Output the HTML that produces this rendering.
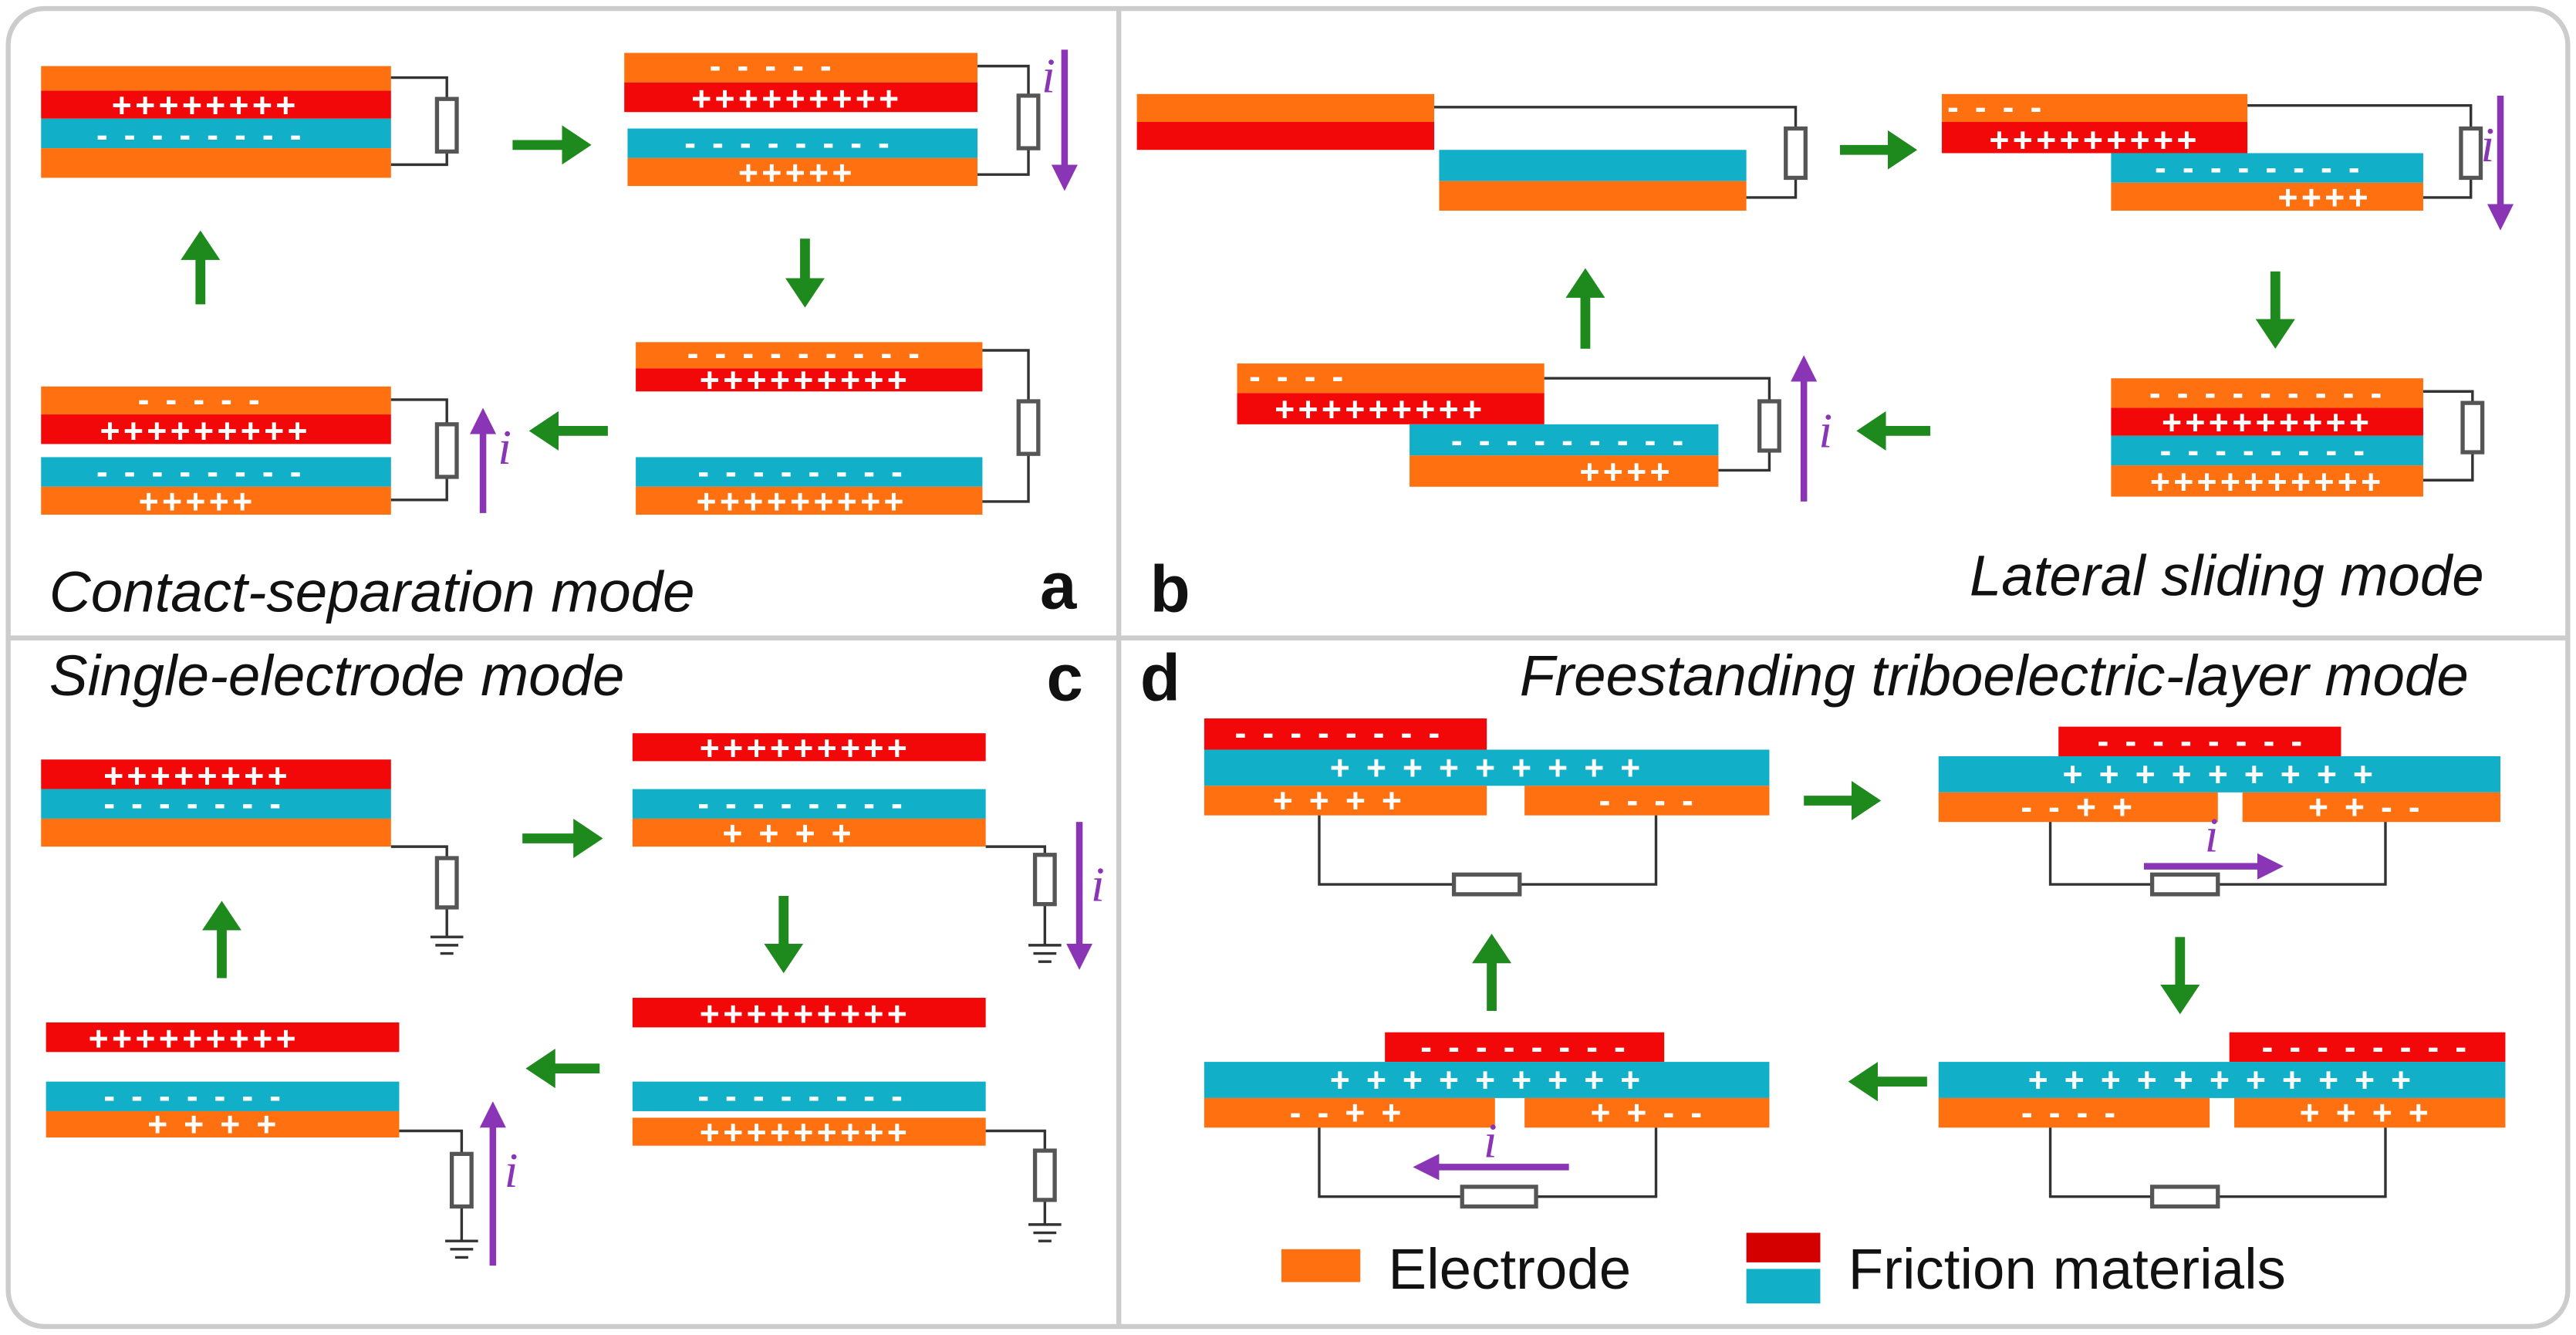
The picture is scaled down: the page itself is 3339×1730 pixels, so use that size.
<!DOCTYPE html>
<html><head><meta charset="utf-8"><style>
html,body{margin:0;padding:0;background:#fff}
svg{display:block}
.t{font-family:"Liberation Sans",sans-serif;font-weight:bold;fill:#fff;font-size:21px;text-anchor:middle;letter-spacing:2px}
.m{font-family:"Liberation Sans",sans-serif;font-style:italic;font-size:35px;fill:#111}
.L{font-family:"Liberation Sans",sans-serif;font-weight:bold;font-size:40px;fill:#111}
.i{font-family:"Liberation Serif",serif;font-style:italic;font-size:30px;fill:#8a35b5}
.w{stroke:#333;stroke-width:1.6;fill:none}
.r{fill:#fff;stroke:#555;stroke-width:2.5}
.g{stroke:#1e8a1e;stroke-width:6}
.p{stroke:#8a35b5;stroke-width:4}
.O{fill:#ff7010}.R{fill:#f20808}.C{fill:#12b0c8}
</style></head><body>
<svg width="3339" height="1730" viewBox="0 0 1568 812" xmlns="http://www.w3.org/2000/svg">
<defs>
<marker id="ga" markerWidth="4" markerHeight="4" refX="1" refY="2" orient="auto" markerUnits="strokeWidth"><path d="M0,0 L3,2 L0,4 z" fill="#1e8a1e"/></marker>
<marker id="pa" markerWidth="5" markerHeight="4" refX="1" refY="2" orient="auto" markerUnits="strokeWidth"><path d="M0,0 L4,2 L0,4 z" fill="#8a35b5"/></marker>
</defs>
<rect x="5" y="5" width="1558" height="802" rx="22" fill="#fff" stroke="#ccc" stroke-width="3"/>
<line x1="681" y1="6" x2="681" y2="806" stroke="#ccc" stroke-width="3"/>
<line x1="6" y1="388" x2="1562" y2="388" stroke="#ccc" stroke-width="3"/>

<!-- Panel a -->
<g>
<rect class="O" x="25" y="40" width="213" height="15"/><rect class="R" x="25" y="55" width="213" height="17"/>
<rect class="C" x="25" y="72" width="213" height="18"/><rect class="O" x="25" y="90" width="213" height="18"/>
<text class="t" x="125" y="71">++++++++</text><text class="t" x="122" y="89">- - - - - - - -</text>
<path class="w" d="M238,47 H272 V100 H238"/><rect class="r" x="266" y="60" width="12" height="32"/>
<line class="g" x1="312" y1="88" x2="348" y2="88" marker-end="url(#ga)"/>

<rect class="O" x="380" y="32" width="215" height="18"/><rect class="R" x="380" y="50" width="215" height="18"/>
<rect class="C" x="382" y="78" width="213" height="18"/><rect class="O" x="382" y="96" width="213" height="17"/>
<text class="t" x="470" y="47">- - - - -</text><text class="t" x="485" y="67">+++++++++</text>
<text class="t" x="480" y="94">- - - - - - - -</text><text class="t" x="485" y="112">+++++</text>
<path class="w" d="M595,40 H626 V106 H595"/><rect class="r" x="620" y="58" width="12" height="32"/>
<line class="p" x1="648" y1="30" x2="648" y2="104" marker-end="url(#pa)"/><text class="i" x="634" y="56">i</text>
<line class="g" x1="490" y1="145" x2="490" y2="175" marker-end="url(#ga)"/>

<rect class="O" x="387" y="208" width="211" height="16"/><rect class="R" x="387" y="224" width="211" height="14"/>
<rect class="C" x="387" y="278" width="211" height="18"/><rect class="O" x="387" y="296" width="211" height="17"/>
<text class="t" x="490" y="222">- - - - - - - - -</text><text class="t" x="490" y="238">+++++++++</text>
<text class="t" x="488" y="294">- - - - - - - -</text><text class="t" x="488" y="312">+++++++++</text>
<path class="w" d="M598,213 H626 V305 H598"/><rect class="r" x="620" y="244" width="12" height="32"/>
<line class="g" x1="370" y1="262" x2="334" y2="262" marker-end="url(#ga)"/>

<rect class="O" x="25" y="235" width="213" height="17"/><rect class="R" x="25" y="252" width="213" height="18"/>
<rect class="C" x="25" y="278" width="213" height="18"/><rect class="O" x="25" y="296" width="213" height="17"/>
<text class="t" x="122" y="250">- - - - -</text><text class="t" x="125" y="269">+++++++++</text>
<text class="t" x="122" y="294">- - - - - - - -</text><text class="t" x="120" y="312">+++++</text>
<path class="w" d="M238,243 H272 V304 H238"/><rect class="r" x="266" y="258" width="12" height="32"/>
<line class="p" x1="294" y1="312" x2="294" y2="260" marker-end="url(#pa)"/><text class="i" x="303" y="282">i</text>
<line class="g" x1="122" y1="185" x2="122" y2="152" marker-end="url(#ga)"/>
<text class="m" x="30" y="372">Contact-separation mode</text><text class="L" x="633" y="370">a</text>
</g>

<!-- Panel b -->
<g>
<rect class="O" x="692" y="57" width="181" height="17"/><rect class="R" x="692" y="74" width="181" height="17"/>
<rect class="C" x="876" y="91" width="187" height="19"/><rect class="O" x="876" y="110" width="187" height="18"/>
<path class="w" d="M873,65 H1093 V120 H1063"/><rect class="r" x="1087" y="78" width="12" height="30"/>
<line class="g" x1="1120" y1="91" x2="1155" y2="91" marker-end="url(#ga)"/>

<rect class="O" x="1182" y="57" width="186" height="17"/><rect class="R" x="1182" y="74" width="186" height="19"/>
<rect class="C" x="1285" y="93" width="190" height="18"/><rect class="O" x="1285" y="111" width="190" height="17"/>
<text class="t" x="1215" y="72">- - - -</text><text class="t" x="1275" y="92">+++++++++</text>
<text class="t" x="1375" y="109">- - - - - - - -</text><text class="t" x="1415" y="127">++++</text>
<path class="w" d="M1368,64 H1504 V120 H1475"/><rect class="r" x="1498" y="78" width="12" height="30"/>
<line class="p" x1="1522" y1="58" x2="1522" y2="128" marker-end="url(#pa)"/><text class="i" x="1510" y="98">i</text>
<line class="g" x1="1385" y1="165" x2="1385" y2="200" marker-end="url(#ga)"/>

<rect class="O" x="1285" y="230" width="190" height="18"/><rect class="R" x="1285" y="248" width="190" height="17"/>
<rect class="C" x="1285" y="265" width="190" height="18"/><rect class="O" x="1285" y="283" width="190" height="19"/>
<text class="t" x="1380" y="246">- - - - - - - - -</text><text class="t" x="1380" y="264">+++++++++</text>
<text class="t" x="1378" y="281">- - - - - - - -</text><text class="t" x="1380" y="300">++++++++++</text>
<path class="w" d="M1475,238 H1505 V292 H1475"/><rect class="r" x="1499" y="245" width="12" height="30"/>
<line class="g" x1="1175" y1="262" x2="1142" y2="262" marker-end="url(#ga)"/>

<rect class="O" x="753" y="221" width="187" height="18"/><rect class="R" x="753" y="239" width="187" height="19"/>
<rect class="C" x="858" y="258" width="188" height="19"/><rect class="O" x="858" y="277" width="188" height="19"/>
<text class="t" x="790" y="236">- - - -</text><text class="t" x="840" y="256">+++++++++</text>
<text class="t" x="955" y="275">- - - - - - - - -</text><text class="t" x="990" y="294">++++</text>
<path class="w" d="M940,230 H1077 V286 H1046"/><rect class="r" x="1071" y="244" width="12" height="30"/>
<line class="p" x1="1098" y1="305" x2="1098" y2="228" marker-end="url(#pa)"/><text class="i" x="1107" y="272">i</text>
<line class="g" x1="965" y1="212" x2="965" y2="175" marker-end="url(#ga)"/>
<text class="m" x="1512" y="362" text-anchor="end">Lateral sliding mode</text><text class="L" x="700" y="372">b</text>
</g>

<!-- Panel c -->
<g>
<text class="m" x="30" y="423">Single-electrode mode</text><text class="L" x="637" y="426">c</text>
<rect class="R" x="25" y="462" width="213" height="18"/><rect class="C" x="25" y="480" width="213" height="18"/><rect class="O" x="25" y="498" width="213" height="17"/>
<text class="t" x="120" y="479">++++++++</text><text class="t" x="118" y="496">- - - - - - -</text>
<path class="w" d="M238,515 H272 V570"/><rect class="r" x="266" y="522" width="12" height="30"/>
<path class="w" d="M262,570 H282 M265,575 H279 M268,580 H276"/>
<line class="g" x1="318" y1="510" x2="355" y2="510" marker-end="url(#ga)"/>

<rect class="R" x="385" y="446" width="215" height="17"/><rect class="C" x="385" y="480" width="215" height="18"/><rect class="O" x="385" y="498" width="215" height="17"/>
<text class="t" x="490" y="462">+++++++++</text><text class="t" x="488" y="496">- - - - - - - -</text><text class="t" x="480" y="514">+ + +  +</text>
<path class="w" d="M600,515 H636 V575"/><rect class="r" x="630" y="520" width="12" height="30"/>
<path class="w" d="M626,575 H646 M629,580 H643 M632,585 H640"/>
<line class="p" x1="657" y1="500" x2="657" y2="578" marker-end="url(#pa)"/><text class="i" x="664" y="548">i</text>
<line class="g" x1="477" y1="545" x2="477" y2="580" marker-end="url(#ga)"/>

<rect class="R" x="385" y="607" width="215" height="18"/><rect class="C" x="385" y="658" width="215" height="18"/><rect class="O" x="385" y="680" width="215" height="17"/>
<text class="t" x="490" y="624">+++++++++</text><text class="t" x="488" y="674">- - - - - - - -</text><text class="t" x="490" y="696">+++++++++</text>
<path class="w" d="M600,688 H636 V745"/><rect class="r" x="630" y="700" width="12" height="30"/>
<path class="w" d="M626,745 H646 M629,750 H643 M632,755 H640"/>
<line class="g" x1="365" y1="650" x2="332" y2="650" marker-end="url(#ga)"/>

<rect class="R" x="28" y="622" width="215" height="18"/><rect class="C" x="28" y="658" width="215" height="18"/><rect class="O" x="28" y="676" width="215" height="16"/>
<text class="t" x="118" y="639">+++++++++</text><text class="t" x="118" y="674">- - - - - - -</text><text class="t" x="130" y="691">+ + + +</text>
<path class="w" d="M243,688 H281 V755"/><rect class="r" x="275" y="702" width="12" height="32"/>
<path class="w" d="M271,755 H291 M274,760 H288 M277,765 H285"/>
<line class="p" x1="300" y1="770" x2="300" y2="682" marker-end="url(#pa)"/><text class="i" x="307" y="722">i</text>
<line class="g" x1="135" y1="595" x2="135" y2="560" marker-end="url(#ga)"/>
</g>

<!-- Panel d -->
<g>
<text class="m" x="925" y="423">Freestanding triboelectric-layer mode</text><text class="L" x="694" y="426">d</text>
<rect class="R" x="733" y="437" width="172" height="19"/><rect class="C" x="733" y="456" width="344" height="22"/>
<rect class="O" x="733" y="478" width="172" height="18"/><rect class="O" x="928" y="478" width="149" height="18"/>
<text class="t" x="815" y="453">- - - - - - - -</text><text class="t" x="905" y="474">+   +   +   +   +   +   +   +   +</text>
<text class="t" x="815" y="494">+  +  +  +</text><text class="t" x="1003" y="494">-   -   -   -</text>
<path class="w" d="M803,496 V538 H1008 V496"/><rect class="r" x="885" y="532" width="40" height="12"/>
<line class="g" x1="1098" y1="487" x2="1133" y2="487" marker-end="url(#ga)"/>

<rect class="R" x="1253" y="442" width="172" height="18"/><rect class="C" x="1180" y="460" width="342" height="22"/>
<rect class="O" x="1180" y="482" width="170" height="18"/><rect class="O" x="1365" y="482" width="157" height="18"/>
<text class="t" x="1340" y="458">- - - - - - - -</text><text class="t" x="1351" y="478">+   +   +   +   +   +   +   +   +</text>
<text class="t" x="1265" y="498">-   -   +  +</text><text class="t" x="1440" y="498">+  +   -   -</text>
<path class="w" d="M1248,500 V538 H1452 V500"/><rect class="r" x="1310" y="532" width="40" height="12"/>
<line class="p" x1="1305" y1="527" x2="1378" y2="527" marker-end="url(#pa)"/><text class="i" x="1342" y="518">i</text>
<line class="g" x1="1327" y1="570" x2="1327" y2="605" marker-end="url(#ga)"/>

<rect class="R" x="1357" y="628" width="168" height="18"/><rect class="C" x="1180" y="646" width="345" height="22"/>
<rect class="O" x="1180" y="668" width="165" height="18"/><rect class="O" x="1360" y="668" width="165" height="18"/>
<text class="t" x="1440" y="644">- - - - - - - -</text><text class="t" x="1352" y="664">+  +  +  +  +  +  +  +  +  +  +</text>
<text class="t" x="1260" y="684">-   -   -   -</text><text class="t" x="1440" y="684">+  +  +  +</text>
<path class="w" d="M1248,686 V728 H1452 V686"/><rect class="r" x="1310" y="722" width="40" height="12"/>
<line class="g" x1="1173" y1="658" x2="1137" y2="658" marker-end="url(#ga)"/>

<rect class="R" x="843" y="628" width="170" height="18"/><rect class="C" x="733" y="646" width="344" height="22"/>
<rect class="O" x="733" y="668" width="177" height="18"/><rect class="O" x="928" y="668" width="149" height="18"/>
<text class="t" x="928" y="644">- - - - - - - -</text><text class="t" x="905" y="664">+   +   +   +   +   +   +   +   +</text>
<text class="t" x="820" y="684">-   -   +   +</text><text class="t" x="1003" y="684">+  +   -   -</text>
<path class="w" d="M803,686 V728 H1008 V686"/><rect class="r" x="890" y="722" width="45" height="12"/>
<line class="p" x1="955" y1="710" x2="872" y2="710" marker-end="url(#pa)"/><text class="i" x="903" y="704">i</text>
<line class="g" x1="908" y1="615" x2="908" y2="580" marker-end="url(#ga)"/>

<rect class="O" x="780" y="760" width="48" height="20"/>
<text x="845" y="784" font-family="Liberation Sans, sans-serif" font-size="35" fill="#111">Electrode</text>
<rect x="1063" y="750" width="45" height="18" fill="#d40000"/><rect class="C" x="1063" y="772" width="45" height="21"/>
<text x="1125" y="784" font-family="Liberation Sans, sans-serif" font-size="35" fill="#111">Friction materials</text>
</g>
</svg>
</body></html>
